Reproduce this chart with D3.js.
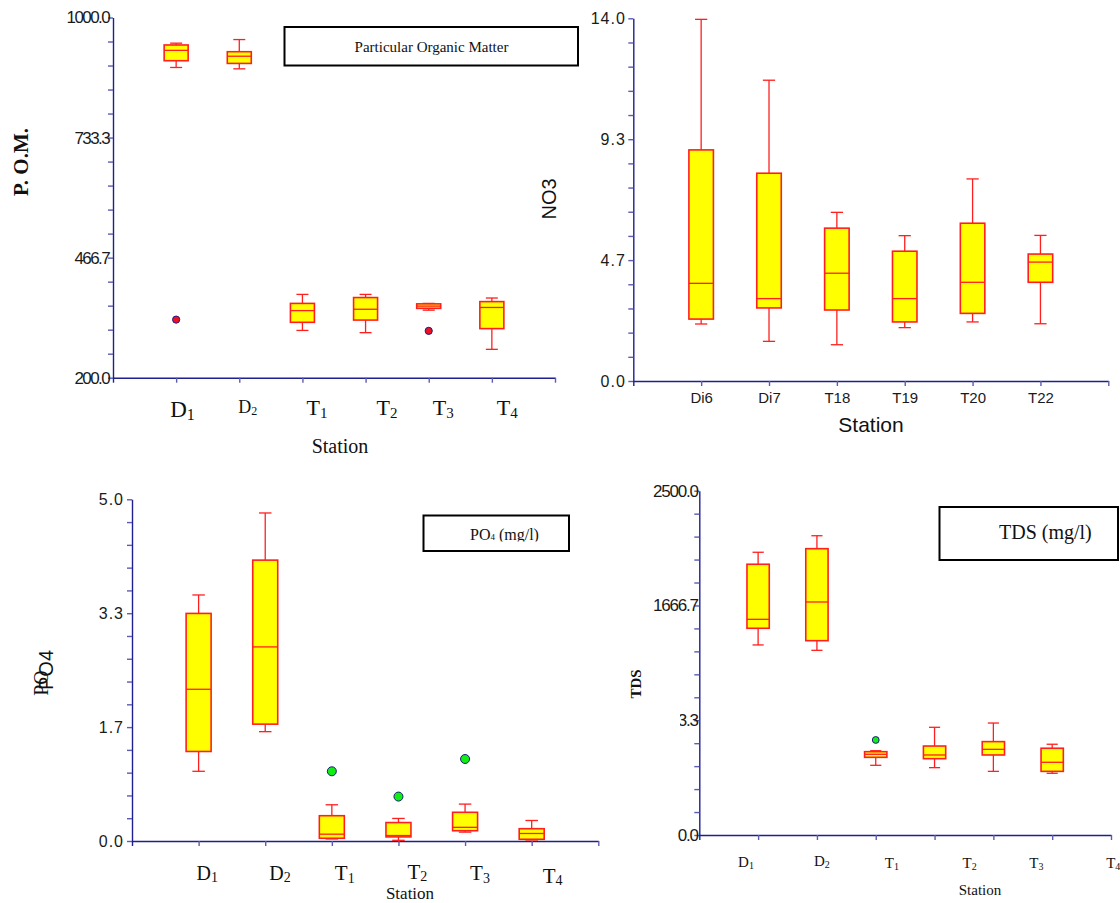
<!DOCTYPE html>
<html>
<head>
<meta charset="utf-8">
<script src="https://cdn.jsdelivr.net/npm/d3@7"></script>
<style>
  html, body { margin: 0; padding: 0; background: #fff; }
  svg { display: block; }
</style>
</head>
<body>
<svg id="chart" width="1120" height="903"></svg>
<script>
// ---------------- DATA ----------------
// Panel 1: Particular Organic Matter
const pomCategories = ["D1", "D2", "T1", "T2", "T3", "T4"];
const pomMin    = [889, 886, 305, 300, 350, 263];
const pomQ1     = [904, 898, 323, 328, 354, 309];
const pomMedian = [927, 914, 349, 352, 359, 356];
const pomQ3     = [939, 924, 365, 378, 364, 369];
const pomMax    = [943, 951, 385, 385, 365, 377];
const pomOutlierCats = ["D1", "T3"];
const pomOutlierVals = [329, 304];
const pomTickLabels = ["200.0", "466.7", "733.3", "1000.0"];

// Panel 2: NO3
const no3Categories = ["Di6", "Di7", "T18", "T19", "T20", "T22"];
const no3Min    = [2.20, 1.53, 1.40, 2.06, 2.28, 2.21];
const no3Q1     = [2.39, 2.82, 2.74, 2.28, 2.61, 3.81];
const no3Median = [3.77, 3.18, 4.16, 3.18, 3.81, 4.59];
const no3Q3     = [8.92, 8.02, 5.90, 5.01, 6.09, 4.90];
const no3Max    = [13.96, 11.61, 6.51, 5.61, 7.80, 5.62];
const no3TickLabels = ["0.0", "4.7", "9.3", "14.0"];

// Panel 3: PO4
const po4Categories = ["D1", "D2", "T1", "T2", "T3", "T4"];
const po4Min    = [1.02, 1.60, 0.03, 0.01, 0.13, 0.015];
const po4Q1     = [1.31, 1.71, 0.04, 0.06, 0.15, 0.025];
const po4Median = [2.22, 2.84, 0.10, 0.08, 0.20, 0.11];
const po4Q3     = [3.33, 4.11, 0.37, 0.27, 0.42, 0.18];
const po4Max    = [3.60, 4.80, 0.53, 0.33, 0.54, 0.30];
const po4OutlierCats = ["T1", "T2", "T3"];
const po4OutlierVals = [1.02, 0.65, 1.20];
const po4TickLabels = ["0.0", "1.7", "3.3", "5.0"];

// Panel 4: TDS
const tdsCategories = ["D1", "D2", "T1", "T2", "T3", "T4"];
const tdsMin    = [1380, 1341, 506, 489, 462, 448];
const tdsQ1     = [1501, 1411, 564, 554, 581, 462];
const tdsMedian = [1566, 1692, 586, 581, 622, 528];
const tdsQ3     = [1966, 2079, 605, 646, 678, 630];
const tdsMax    = [2053, 2173, 612, 782, 813, 659];
const tdsOutlierCats = ["T1"];
const tdsOutlierVals = [690];
const tdsTickLabels = ["0.0", "833.3", "1666.7", "2500.0"];

// ---------------- STYLE ----------------
const SERIF = "'Liberation Serif', 'Times New Roman', Times, serif";
const SANS = "'Liberation Sans', Arial, Helvetica, sans-serif";
const AXIS_COLOR = "#1f1f8f";
const TICK_COLOR = "#5c5cb0";
const BOX_FILL = "#ffff00";
const BOX_STROKE = "#ff1f1f";

const svg = d3.select("#chart");
const defs = svg.append("defs");

function drawPanel(cfg) {
  const g = svg.append("g");
  const n = cfg.categories.length;
  const x = d3.scaleLinear().domain([0, n + 1]).range([cfg.xL, cfg.xR]);
  const y = d3.scaleLinear().domain(cfg.domain).range([cfg.yB, cfg.yT]);
  const catIndex = c => cfg.categories.indexOf(c) + 1;

  // y axis
  const [d0, d1] = cfg.domain;
  const yTickVals = d3.range(16).map(i => d0 + i * (d1 - d0) / 15);
  const yAxis = d3.axisLeft(y)
    .tickValues(yTickVals)
    .tickSize(5)
    .tickSizeOuter(0)
    .tickPadding(cfg.tickPad)
    .tickFormat((d, i) => i % 5 === 0 ? cfg.tickLabels[i / 5] : "");
  const yg = g.append("g").attr("transform", `translate(${cfg.xL},0)`).call(yAxis);
  yg.select(".domain").attr("stroke", AXIS_COLOR).attr("stroke-width", 1.4);
  yg.selectAll(".tick line").attr("stroke", TICK_COLOR).attr("stroke-width", 1.4);
  yg.selectAll(".tick text")
    .attr("fill", "#1a1a1a")
    .style("font-family", SANS)
    .style("font-size", cfg.tickFont + "px")
    .style("letter-spacing", cfg.tickLS + "px");
  if (cfg.clipTickIndex !== undefined) {
    defs.append("clipPath").attr("id", cfg.id + "-tclip")
      .append("rect").attr("x", cfg.clipTickX - cfg.xL).attr("y", -30).attr("width", 200).attr("height", 60);
    yg.selectAll(".tick text").filter((d, i) => i === cfg.clipTickIndex)
      .attr("clip-path", `url(#${cfg.id}-tclip)`);
  }

  // x axis
  const xTickVals = d3.range(n + 2);
  const xAxis = d3.axisBottom(x)
    .tickValues(xTickVals)
    .tickSize(5)
    .tickSizeOuter(0)
    .tickPadding(cfg.xTickPad || 8)
    .tickFormat(cfg.xTickText ? (d => (d >= 1 && d <= n) ? cfg.categories[d - 1] : "") : "");
  const xg = g.append("g").attr("transform", `translate(0,${cfg.yB})`).call(xAxis);
  xg.select(".domain").attr("stroke", AXIS_COLOR).attr("stroke-width", 1.4);
  xg.selectAll(".tick line").attr("stroke", d => d === 0 ? AXIS_COLOR : TICK_COLOR).attr("stroke-width", 1.4);
  xg.selectAll(".tick text")
    .attr("fill", "#1a1a1a")
    .style("font-family", SANS)
    .style("font-size", "15px");

  // boxes
  const bw = cfg.boxW;
  const data = cfg.categories.map((c, i) => ({
    c, i: i + 1, min: cfg.min[i], q1: cfg.q1[i], med: cfg.median[i], q3: cfg.q3[i], max: cfg.max[i]
  }));
  const bg = g.append("g");
  const box = bg.selectAll("g.box").data(data).join("g").attr("class", "box");
  box.append("line")
    .attr("x1", d => x(d.i)).attr("x2", d => x(d.i))
    .attr("y1", d => y(d.max)).attr("y2", d => y(d.q3))
    .attr("stroke", BOX_STROKE).attr("stroke-width", 1.3);
  box.append("line")
    .attr("x1", d => x(d.i)).attr("x2", d => x(d.i))
    .attr("y1", d => y(d.q1)).attr("y2", d => y(d.min))
    .attr("stroke", BOX_STROKE).attr("stroke-width", 1.3);
  box.append("line")
    .attr("x1", d => x(d.i) - bw / 4).attr("x2", d => x(d.i) + bw / 4)
    .attr("y1", d => y(d.max)).attr("y2", d => y(d.max))
    .attr("stroke", BOX_STROKE).attr("stroke-width", 1.3);
  box.append("line")
    .attr("x1", d => x(d.i) - bw / 4).attr("x2", d => x(d.i) + bw / 4)
    .attr("y1", d => y(d.min)).attr("y2", d => y(d.min))
    .attr("stroke", BOX_STROKE).attr("stroke-width", 1.3);
  box.append("rect")
    .attr("x", d => x(d.i) - bw / 2).attr("width", bw)
    .attr("y", d => y(d.q3)).attr("height", d => Math.max(1, y(d.q1) - y(d.q3)))
    .attr("fill", BOX_FILL).attr("stroke", BOX_STROKE).attr("stroke-width", 1.6);
  box.append("line")
    .attr("x1", d => x(d.i) - bw / 2).attr("x2", d => x(d.i) + bw / 2)
    .attr("y1", d => y(d.med)).attr("y2", d => y(d.med))
    .attr("stroke", BOX_STROKE).attr("stroke-width", 1.3);

  // outliers
  if (cfg.outCats) {
    g.append("g").selectAll("circle")
      .data(cfg.outCats.map((c, k) => ({ c, v: cfg.outVals[k] })))
      .join("circle")
      .attr("cx", d => x(catIndex(d.c))).attr("cy", d => y(d.v))
      .attr("r", cfg.outR)
      .attr("fill", cfg.outFill).attr("stroke", "#1a1a80").attr("stroke-width", 1);
  }

  // category labels (serif, with subscripts)
  if (cfg.catLabels) {
    const lg = g.append("g");
    cfg.categories.forEach((c, i) => {
      const L = cfg.catLabels[i];
      const t = lg.append("text")
        .attr("x", x(i + 1) + L.dx).attr("y", L.y)
        .style("font-family", SERIF).style("font-size", L.fs + "px").attr("fill", "#111");
      t.append("tspan").text(c.charAt(0));
      t.append("tspan").text(c.slice(1))
        .style("font-size", Math.round(L.fs * 0.68) + "px")
        .attr("dy", L.fs * 0.12);
    });
  }
  return { x, y, g };
}

// ---------------- PANEL 1 ----------------
drawPanel({
  id: "p1", categories: pomCategories, min: pomMin, q1: pomQ1, median: pomMedian, q3: pomQ3, max: pomMax,
  outCats: pomOutlierCats, outVals: pomOutlierVals, outR: 3.6, outFill: "#ee1122",
  domain: [200, 1000], tickLabels: pomTickLabels,
  xL: 113, xR: 555, yT: 17.5, yB: 377.7, boxW: 24,
  tickFont: 17, tickLS: -1.6, tickPad: -1,
  catLabels: [
    { dx: -6, y: 417, fs: 23 }, { dx: -1, y: 413, fs: 18 }, { dx: 4, y: 415, fs: 22 },
    { dx: 11, y: 415, fs: 22 }, { dx: 4, y: 415, fs: 22 }, { dx: 5, y: 415, fs: 22 }
  ]
});
svg.append("text").attr("x", 340).attr("y", 452.5).attr("text-anchor", "middle")
  .style("font-family", SERIF).style("font-size", "20px").attr("fill", "#111").text("Station");
svg.append("text").attr("transform", "translate(28,162) rotate(-90)").attr("text-anchor", "middle")
  .style("font-family", SERIF).style("font-size", "21px").style("font-weight", "bold").attr("fill", "#111").text("P. O.M.");
svg.append("rect").attr("x", 284.5).attr("y", 27).attr("width", 293.5).attr("height", 38.5)
  .attr("fill", "#fff").attr("stroke", "#000").attr("stroke-width", 2);
svg.append("text").attr("x", 431.5).attr("y", 52.3).attr("text-anchor", "middle")
  .style("font-family", SERIF).style("font-size", "15px").attr("fill", "#111").text("Particular Organic Matter");

// ---------------- PANEL 2 ----------------
drawPanel({
  id: "p2", categories: no3Categories, min: no3Min, q1: no3Q1, median: no3Median, q3: no3Q3, max: no3Max,
  domain: [0, 14], tickLabels: no3TickLabels,
  xL: 633.3, xR: 1108.3, yT: 18.3, yB: 381, boxW: 24.5,
  tickFont: 16, tickLS: 1, tickPad: 2.5,
  xTickText: true, xTickPad: 6
});
svg.append("text").attr("x", 871).attr("y", 431.5).attr("text-anchor", "middle")
  .style("font-family", SANS).style("font-size", "21px").attr("fill", "#111").text("Station");
svg.append("text").attr("transform", "translate(556,199) rotate(-90)").attr("text-anchor", "middle")
  .style("font-family", SANS).style("font-size", "20px").attr("fill", "#111").text("NO3");

// ---------------- PANEL 3 ----------------
drawPanel({
  id: "p3", categories: po4Categories, min: po4Min, q1: po4Q1, median: po4Median, q3: po4Q3, max: po4Max,
  outCats: po4OutlierCats, outVals: po4OutlierVals, outR: 4.5, outFill: "#11ee11",
  domain: [0, 5], tickLabels: po4TickLabels,
  xL: 132, xR: 598.3, yT: 499.3, yB: 841, boxW: 25,
  tickFont: 16, tickLS: 1, tickPad: 3,
  catLabels: [
    { dx: -2, y: 880, fs: 20 }, { dx: 4, y: 880, fs: 20 }, { dx: 3, y: 880, fs: 21 },
    { dx: 9, y: 878.5, fs: 21 }, { dx: 5, y: 880, fs: 21 }, { dx: 11, y: 882.5, fs: 21 }
  ]
});
svg.append("text").attr("x", 410).attr("y", 898.5).attr("text-anchor", "middle")
  .style("font-family", SERIF).style("font-size", "17px").attr("fill", "#111").text("Station");
svg.append("text").attr("transform", "translate(53,670) rotate(-90)").attr("text-anchor", "middle")
  .style("font-family", SANS).style("font-size", "20px").attr("fill", "#111").text("PO4");
svg.append("text").attr("transform", "translate(48,683) rotate(-90)").attr("text-anchor", "middle")
  .style("font-family", SERIF).style("font-size", "20px").attr("fill", "#111").text("PO");
svg.append("rect").attr("x", 423.5).attr("y", 515.5).attr("width", 145.5).attr("height", 35.5)
  .attr("fill", "#fff").attr("stroke", "#000").attr("stroke-width", 2);
defs.append("clipPath").attr("id", "po4tclip").append("rect")
  .attr("x", 424).attr("y", 516).attr("width", 144).attr("height", 25.5);
const po4t = svg.append("text").attr("x", 470).attr("y", 540).attr("clip-path", "url(#po4tclip)")
  .style("font-family", SERIF).style("font-size", "16px").attr("fill", "#111");
po4t.append("tspan").text("PO");
po4t.append("tspan").text("4").style("font-size", "9px");
po4t.append("tspan").text(" (mg/l)");

// ---------------- PANEL 4 ----------------
drawPanel({
  id: "p4", categories: tdsCategories, min: tdsMin, q1: tdsQ1, median: tdsMedian, q3: tdsQ3, max: tdsMax,
  outCats: tdsOutlierCats, outVals: tdsOutlierVals, outR: 3.4, outFill: "#11ee11",
  domain: [0, 2500], tickLabels: tdsTickLabels,
  xL: 699.3, xR: 1111, yT: 490.7, yB: 835, boxW: 22.3,
  tickFont: 17, tickLS: -1.2, tickPad: -3.5,
  clipTickIndex: 5, clipTickX: 680,
  catLabels: [
    { dx: -20, y: 867, fs: 15 }, { dx: -3, y: 866, fs: 15 }, { dx: 9, y: 868, fs: 15 },
    { dx: 28, y: 868, fs: 15 }, { dx: 36, y: 868, fs: 15 }, { dx: 54, y: 868, fs: 15 }
  ]
});
svg.append("text").attr("x", 980).attr("y", 895).attr("text-anchor", "middle")
  .style("font-family", SERIF).style("font-size", "15px").attr("fill", "#111").text("Station");
svg.append("text").attr("transform", "translate(640.5,684) rotate(-90)").attr("text-anchor", "middle")
  .style("font-family", SERIF).style("font-size", "15px").style("font-weight", "bold").attr("fill", "#111").text("TDS");
svg.append("rect").attr("x", 939.5).attr("y", 507).attr("width", 178.5).attr("height", 53)
  .attr("fill", "#fff").attr("stroke", "#000").attr("stroke-width", 2);
svg.append("text").attr("x", 999).attr("y", 538.5)
  .style("font-family", SERIF).style("font-size", "20px").attr("fill", "#111").text("TDS (mg/l)");
</script>
</body>
</html>
